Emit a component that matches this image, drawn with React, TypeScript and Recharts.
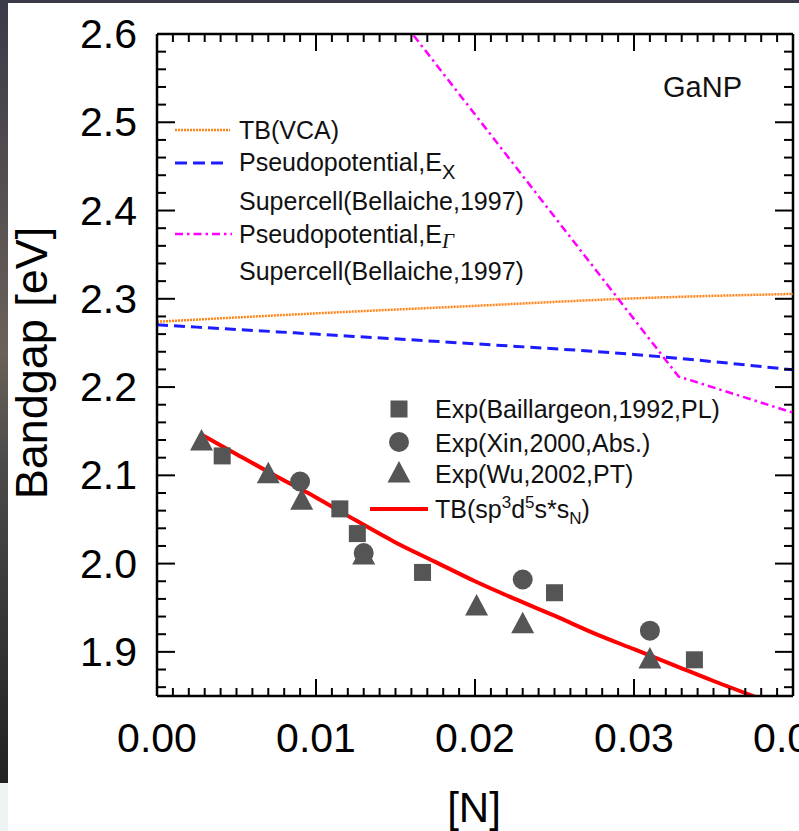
import React from 'react';
import { ComposedChart, Line, Scatter, XAxis, YAxis, ReferenceLine } from 'recharts';

// ---- data ----
const xMajor = [0, 0.01, 0.02, 0.03, 0.04];
const xTickLabels = ['0.00', '0.01', '0.02', '0.03', '0.04'];
const yMajor = [1.9, 2.0, 2.1, 2.2, 2.3, 2.4, 2.5, 2.6];
const yTickLabels = ['1.9', '2.0', '2.1', '2.2', '2.3', '2.4', '2.5', '2.6'];

const baillargeonN = [0.0041, 0.0115, 0.0126, 0.0167, 0.025, 0.0338];
const baillargeonEg = [2.122, 2.062, 2.034, 1.99, 1.967, 1.891];

const xinN = [0.009, 0.013, 0.023, 0.031];
const xinEg = [2.093, 2.012, 1.982, 1.924];

const wuN = [0.0028, 0.007, 0.0091, 0.013, 0.0201, 0.023, 0.031];
const wuEg = [2.14, 2.103, 2.073, 2.011, 1.953, 1.933, 1.893];

const tbN = [0.0027, 0.005, 0.0075, 0.01, 0.0125, 0.015, 0.0175, 0.02, 0.0225, 0.025, 0.0275, 0.03, 0.0325, 0.035, 0.0378];
const tbEg = [2.147, 2.124, 2.099, 2.075, 2.049, 2.024, 2.002, 1.98, 1.96, 1.941, 1.921, 1.903, 1.885, 1.867, 1.848];

const vcaN = [0, 0.01, 0.02, 0.03, 0.04];
const vcaEg = [2.274, 2.2835, 2.292, 2.3005, 2.3055];

const pseudoXN = [0, 0.01, 0.02, 0.03, 0.04];
const pseudoXEg = [2.2705, 2.26, 2.249, 2.237, 2.2195];

const pseudoGN = [0.014, 0.0328, 0.04];
const pseudoGEg = [2.648, 2.212, 2.171];

const zip = (n: number[], eg: number[]) => n.map((v, i) => ({ n: v, eg: eg[i] }));

// ---- layout ----
const W = 799;
const H = 831;
const PLOT_L = 157;
const PLOT_R = 793;
const PLOT_T = 34;
const PLOT_B = 696;
const FONT = '"Liberation Sans", Arial, sans-serif';
const MARK = '#555555';

const xTicks = Array.from({ length: 41 }, (_, i) => i / 1000);
const yTicks = Array.from({ length: 38 }, (_, i) => Math.round((1.86 + i * 0.02) * 100) / 100);

const near = (a: number, b: number) => Math.abs(a - b) < 1e-6;

const XTick = (props: any) => {
  const { x, payload } = props;
  const idx = xMajor.findIndex((m) => near(m, payload.value));
  const len = idx >= 0 ? 17 : 8;
  return (
    <g>
      <line x1={x} x2={x} y1={PLOT_B} y2={PLOT_B - len} stroke="#000" strokeWidth={2} />
      <line x1={x} x2={x} y1={PLOT_T} y2={PLOT_T + len} stroke="#000" strokeWidth={2} />
      {idx >= 0 && (
        <text x={x} y={752} textAnchor="middle" fontSize={41} fontFamily={FONT} fill="#000">
          {xTickLabels[idx]}
        </text>
      )}
    </g>
  );
};

const YTick = (props: any) => {
  const { y, payload } = props;
  const idx = yMajor.findIndex((m) => near(m, payload.value));
  const len = idx >= 0 ? 18 : 9;
  return (
    <g>
      <line x1={PLOT_L} x2={PLOT_L + len} y1={y} y2={y} stroke="#000" strokeWidth={2} />
      <line x1={PLOT_R} x2={PLOT_R - len} y1={y} y2={y} stroke="#000" strokeWidth={2} />
      {idx >= 0 && (
        <text x={137} y={y + 14} textAnchor="end" fontSize={41} fontFamily={FONT} fill="#000">
          {yTickLabels[idx]}
        </text>
      )}
    </g>
  );
};

const SquareDot = (p: any) => <rect x={p.cx - 8.5} y={p.cy - 8.5} width={17} height={17} fill={MARK} />;
const CircleDot = (p: any) => <circle cx={p.cx} cy={p.cy} r={10} fill={MARK} />;
const TriDot = (p: any) => (
  <polygon points={`${p.cx},${p.cy - 11} ${p.cx - 11.5},${p.cy + 10.5} ${p.cx + 11.5},${p.cy + 10.5}`} fill={MARK} />
);

const App = () => {
  const txt = { fontFamily: FONT, fill: '#111' };
  return (
    <div style={{ position: 'absolute', left: 0, top: 0, width: W, height: H, overflow: 'hidden', background: '#3b3a48' }}>
      <div
        style={{
          position: 'absolute', left: 0, top: 0, width: 8, height: 783,
          background: 'linear-gradient(#3b3a48, #6a6158 45%, #4a4a4a 60%, #222 100%)',
        }}
      />
      <div style={{ position: 'absolute', left: 0, top: 783, width: 8, height: 48, background: '#eef4f4' }} />
      <div style={{ position: 'absolute', left: 8, top: 3, width: W - 8, height: H - 3, background: '#fff' }} />

      <div style={{ position: 'absolute', left: 0, top: 0 }}>
        <ComposedChart
          width={W}
          height={H}
          margin={{ top: PLOT_T, right: W - PLOT_R, left: PLOT_L - 60, bottom: H - PLOT_B - 60 }}
        >
          <XAxis
            dataKey="n"
            type="number"
            domain={[0, 0.04]}
            ticks={xTicks}
            interval={0}
            tick={<XTick />}
            tickLine={false}
            tickSize={0}
            tickMargin={0}
            height={60}
            axisLine={{ stroke: '#000', strokeWidth: 2.5 }}
            allowDataOverflow
          />
          <YAxis
            type="number"
            domain={[1.85, 2.6]}
            ticks={yTicks}
            interval={0}
            tick={<YTick />}
            tickLine={false}
            tickSize={0}
            tickMargin={0}
            width={60}
            axisLine={{ stroke: '#000', strokeWidth: 2.5 }}
            allowDataOverflow
          />
          <ReferenceLine y={2.6} stroke="#000" strokeWidth={2.5} />
          <ReferenceLine x={0.04} stroke="#000" strokeWidth={2.5} />

          <Line data={zip(vcaN, vcaEg)} dataKey="eg" type="monotone" stroke="#ff8418" strokeWidth={2.5}
            strokeDasharray="2 1" dot={false} isAnimationActive={false} />
          <Line data={zip(pseudoXN, pseudoXEg)} dataKey="eg" type="monotone" stroke="#1c1cff" strokeWidth={3}
            strokeDasharray="11 6" dot={false} isAnimationActive={false} />
          <Line data={zip(pseudoGN, pseudoGEg)} dataKey="eg" type="linear" stroke="#ff00ff" strokeWidth={2.5}
            strokeDasharray="8 4 2.5 4" dot={false} isAnimationActive={false} />

          <Scatter data={zip(baillargeonN, baillargeonEg)} dataKey="eg" shape={SquareDot} isAnimationActive={false} />
          <Scatter data={zip(xinN, xinEg)} dataKey="eg" shape={CircleDot} isAnimationActive={false} />
          <Scatter data={zip(wuN, wuEg)} dataKey="eg" shape={TriDot} isAnimationActive={false} />

          <Line data={zip(tbN, tbEg)} dataKey="eg" type="monotone" stroke="#ff0000" strokeWidth={4}
            dot={false} isAnimationActive={false} />
        </ComposedChart>
      </div>

      <svg width={W} height={H} style={{ position: 'absolute', left: 0, top: 0, pointerEvents: 'none' }}>
        {/* axis titles */}
        <text transform="translate(47,363) rotate(-90)" textAnchor="middle" fontSize={45} {...txt} fill="#000">
          Bandgap [eV]
        </text>
        <text x={474} y={822} textAnchor="middle" fontSize={42} {...txt} fill="#000">[N]</text>
        <text x={663} y={97} fontSize={29} {...txt}>GaNP</text>

        {/* upper legend */}
        <line x1={175} x2={230} y1={130} y2={130} stroke="#ff8418" strokeWidth={2.5} strokeDasharray="2 1" />
        <text x={239} y={139} fontSize={25} {...txt}>TB(VCA)</text>
        <line x1={175} x2={223} y1={163} y2={163} stroke="#1c1cff" strokeWidth={3} strokeDasharray="12 6" />
        <text x={239} y={171} fontSize={25} {...txt}>
          Pseudopotential,E<tspan fontSize={20} dy={8}>X</tspan>
        </text>
        <text x={239} y={210} fontSize={25} {...txt}>Supercell(Bellaiche,1997)</text>
        <line x1={175} x2={232} y1={234} y2={234} stroke="#ff00ff" strokeWidth={2.5} strokeDasharray="8 4 2.5 4" />
        <text x={239} y={243} fontSize={25} {...txt}>
          Pseudopotential,E<tspan fontSize={21} dy={5} fontFamily='"Liberation Serif", serif' fontStyle="italic">Γ</tspan>
        </text>
        <text x={239} y={280} fontSize={25} {...txt}>Supercell(Bellaiche,1997)</text>

        {/* lower legend */}
        <rect x={390.5} y={400.5} width={17} height={17} fill={MARK} />
        <text x={435} y={418} fontSize={25} {...txt}>Exp(Baillargeon,1992,PL)</text>
        <circle cx={399} cy={442} r={10} fill={MARK} />
        <text x={435} y={452} fontSize={25} {...txt}>Exp(Xin,2000,Abs.)</text>
        <polygon points="399,461 387.5,482.5 410.5,482.5" fill={MARK} />
        <text x={435} y={483} fontSize={25} {...txt}>Exp(Wu,2002,PT)</text>
        <line x1={370} x2={428} y1={509} y2={509} stroke="#ff0000" strokeWidth={4} />
        <text x={435} y={518} fontSize={25} {...txt}>
          TB(sp<tspan fontSize={17} dy={-10}>3</tspan>
          <tspan dy={10}>d</tspan>
          <tspan fontSize={17} dy={-10}>5</tspan>
          <tspan dy={10}>s*s</tspan>
          <tspan fontSize={17} dy={6}>N</tspan>
          <tspan dy={-6}>)</tspan>
        </text>
      </svg>
    </div>
  );
};

export default App;
